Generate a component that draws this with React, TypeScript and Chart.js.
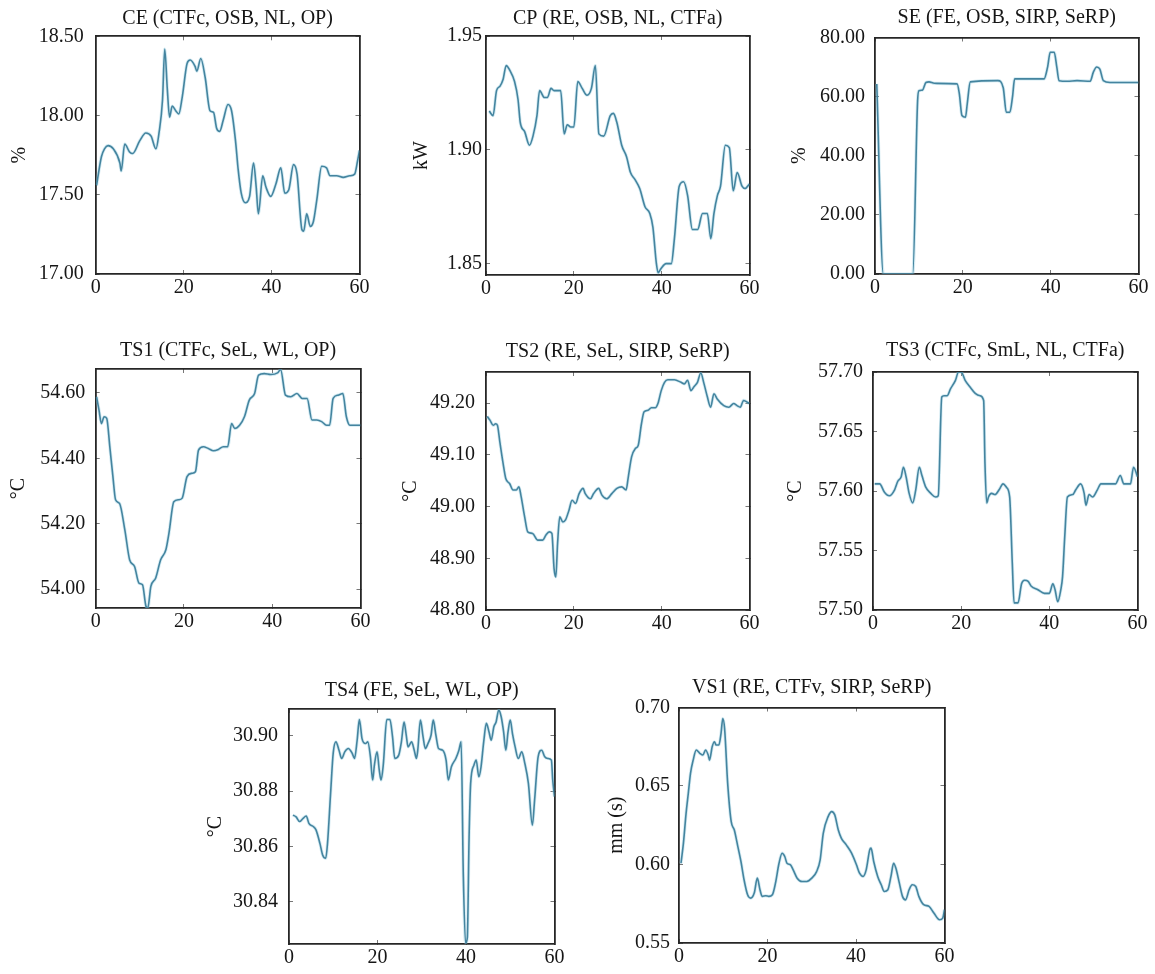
import React, { useEffect, useRef } from 'react';
import { Chart, registerables } from 'chart.js';

Chart.register(...registerables);

// ---------- data ----------
const CE_X = [0.2,1.3,2,2.8,4,5.5,5.8,6.6,7.7,8.4,10,11.4,12.6,13.7,14.4,15.2,15.7,16.3,16.8,17.4,18.2,18.9,19.7,20.8,21.5,22.6,23,23.9,24.9,26,26.8,27.5,28.2,29,30.1,30.9,31.8,32.4,33.1,34,35,35.9,36.5,37,38,38.7,39.8,41,42.1,43,43.9,45,45.8,46.9,47.3,48,48.8,49.5,50.3,51.4,52.5,53.3,54.8,56.3,57.8,58.9,59.6,60];
const CE_Y = [17.56,17.74,17.79,17.81,17.79,17.70,17.65,17.82,17.77,17.76,17.84,17.89,17.87,17.79,17.89,18.10,18.42,18.16,17.99,18.06,18.03,18.01,18.12,18.33,18.35,18.31,18.28,18.36,18.24,18.03,18.02,17.92,17.90,17.97,18.07,18.03,17.84,17.66,17.51,17.45,17.49,17.70,17.55,17.38,17.62,17.55,17.49,17.57,17.67,17.51,17.53,17.69,17.63,17.28,17.27,17.38,17.30,17.33,17.47,17.68,17.67,17.62,17.62,17.61,17.62,17.63,17.72,17.78];

const CP_X = [0.75,1.6,2.4,3.2,3.9,4.6,5.4,6.5,7.3,7.8,8.8,9.9,10.7,11.6,12.2,13.3,14,14.8,15.5,16.3,17,17.8,18.5,19.3,20,20.9,21.9,23,24,24.9,25.7,26.8,28.3,29,29.8,30.9,32,32.9,33.9,35,36.2,37.3,38,38.8,39.2,39.9,41,42.2,42.9,44,45,45.9,47,48.2,49.3,50.4,51.2,51.9,52.7,53.4,54.5,55.4,56.3,57.2,58.3,59,60];
const CP_Y = [1.917,1.915,1.926,1.928,1.931,1.937,1.935,1.930,1.922,1.912,1.908,1.902,1.906,1.915,1.926,1.923,1.923,1.927,1.926,1.926,1.926,1.907,1.911,1.910,1.910,1.930,1.927,1.924,1.927,1.937,1.907,1.906,1.915,1.916,1.912,1.902,1.897,1.890,1.887,1.883,1.875,1.872,1.866,1.850,1.846,1.848,1.850,1.850,1.861,1.884,1.886,1.880,1.865,1.865,1.872,1.872,1.861,1.872,1.880,1.884,1.902,1.901,1.882,1.890,1.884,1.883,1.885];

const SE_X = [0.4,1.9,8.6,9.7,10,10.8,11.6,12.3,13.5,18.7,19.2,19.8,20.6,21,21.7,28,29.2,29.9,30.7,31.3,31.8,38.5,39.3,39.9,40.8,41.4,41.9,43.8,46,49,49.7,50.5,51.2,52,53.5,60];
const SE_Y = [64.3,0,0,58.6,62,62.2,64.8,65,64.5,64.3,61,53.6,53,57.5,65,65.4,63,54.7,54.7,59.8,66,66,70,75,75,70,65.4,65.2,65.4,65.2,68.2,70,69.3,65.4,64.8,64.8];

const TS1_X = [0.2,0.75,1.3,1.9,2.5,3.2,3.9,4.5,5.4,6.6,7.7,8.8,9.8,10.6,11.4,11.8,12.5,13.6,14.7,15.9,16.6,17.7,18.8,19.6,20.7,21.8,22.6,23.3,24.4,25.5,26.7,27.8,28.9,29.9,30.8,31.5,32.6,33.7,34.8,36,36.9,38.2,39.7,41.2,41.9,43,44.2,45.6,46.8,47.9,49,50.1,51.2,52.3,53,53.8,54.9,56,56.8,57.6,60];
const TS1_Y = [54.588,54.547,54.506,54.527,54.522,54.435,54.344,54.273,54.262,54.181,54.089,54.069,54.018,54.013,53.947,53.942,54.008,54.034,54.089,54.12,54.171,54.267,54.273,54.278,54.344,54.354,54.359,54.425,54.435,54.43,54.423,54.427,54.435,54.435,54.506,54.491,54.501,54.527,54.578,54.598,54.654,54.659,54.656,54.661,54.671,54.593,54.588,54.598,54.583,54.583,54.517,54.517,54.512,54.501,54.501,54.583,54.593,54.598,54.527,54.501,54.501];

const TS2_X = [0.3,0.9,1.65,2.2,2.6,3.15,3.9,4.5,5.4,6.15,6.9,7.5,8,8.8,9.5,10.6,11.8,12.9,13.65,14.4,15,15.5,15.9,16.3,16.8,17.5,18.1,18.9,19.6,20.4,21.2,22.1,22.6,23.8,24.5,25.65,26.4,27.5,28.65,29.8,30.9,31.9,32.4,33.15,34,34.65,35.4,36,36.9,37.65,38.55,39.15,39.9,40.65,41.4,42.9,44.4,45.15,45.9,46.65,47.4,48.15,48.9,49.65,50.4,51.15,51.9,52.65,54.15,55.3,56.4,57.15,57.9,58.65,59.4,60];
const TS2_Y = [49.174,49.167,49.157,49.16,49.157,49.125,49.083,49.054,49.044,49.032,49.032,49.038,49.019,48.98,48.951,48.948,48.935,48.935,48.945,48.951,48.948,48.88,48.864,48.929,48.98,48.97,48.974,48.993,49.012,49.006,49.025,49.035,49.025,49.015,49.025,49.035,49.022,49.015,49.025,49.035,49.038,49.032,49.057,49.096,49.112,49.118,49.16,49.183,49.186,49.191,49.191,49.199,49.224,49.24,49.245,49.245,49.24,49.237,49.244,49.224,49.232,49.24,49.258,49.237,49.212,49.192,49.218,49.208,49.195,49.192,49.199,49.195,49.192,49.205,49.202,49.199];

const TS3_X = [0.4,1.5,2.6,3.7,4.9,5.6,6.4,6.9,7.5,8.2,9,9.7,10.5,11.1,12,13.1,14.2,14.8,15.6,16.1,16.8,17.6,18.7,19.4,20,20.9,22.1,23.2,24.3,25.1,25.4,25.8,26.2,26.9,27.7,28.6,29.5,30.3,31,31.6,32,32.9,33.7,34.4,35.2,35.9,37.4,38.9,40,40.8,41.3,41.9,42.6,43,43.5,44.1,45.3,46,47.1,47.9,48.3,49,49.8,50.9,51.7,55,56.1,56.9,58.4,59.1,60];
const TS3_Y = [57.606,57.606,57.599,57.596,57.601,57.608,57.612,57.620,57.612,57.598,57.59,57.601,57.620,57.613,57.603,57.598,57.595,57.596,57.679,57.68,57.68,57.686,57.693,57.70,57.70,57.693,57.687,57.682,57.68,57.676,57.623,57.59,57.595,57.598,57.597,57.601,57.606,57.603,57.595,57.539,57.506,57.506,57.522,57.525,57.524,57.520,57.517,57.514,57.514,57.522,57.517,57.507,57.517,57.528,57.562,57.595,57.597,57.601,57.606,57.598,57.588,57.597,57.595,57.601,57.606,57.606,57.613,57.606,57.606,57.620,57.612];

const TS4_X = [0.9,1.6,2.4,3.1,3.9,4.5,5.4,6.1,7,7.6,8.3,8.7,9.4,10,10.6,11.3,11.9,12.6,13.4,14.3,14.8,15.4,15.9,16.5,17.3,17.8,18.4,18.9,19.3,19.9,20.4,20.8,21.3,22.1,22.8,23.4,23.9,24.8,25.4,26,26.5,26.9,27.7,28.3,28.8,29.1,29.7,30.3,30.8,31.4,32.1,32.6,33.2,33.8,34.7,35.5,36,36.7,37.7,38.4,38.9,39.4,39.9,40.3,40.7,41.05,41.8,42.3,42.9,43.4,44,44.6,45.2,45.7,46.3,46.8,47.4,47.95,48.5,49,49.5,50,50.5,51.1,51.8,52.6,53.3,54.1,55,55.5,56.3,57.1,57.8,58.5,59.3,59.6,60];
const TS4_Y = [30.8713,30.8707,30.869,30.870,30.871,30.8683,30.8673,30.866,30.861,30.8569,30.8557,30.861,30.8792,30.8939,30.8978,30.8948,30.8918,30.8942,30.8954,30.8936,30.8918,30.8984,30.9059,30.899,30.8972,30.8978,30.8924,30.884,30.8894,30.8942,30.8876,30.884,30.8894,30.9059,30.9059,30.8996,30.8918,30.893,30.8978,30.905,30.9002,30.896,30.8978,30.8948,30.8918,30.8948,30.9057,30.8996,30.8954,30.8972,30.9002,30.9057,30.9002,30.8954,30.8948,30.8912,30.884,30.8888,30.8918,30.8948,30.8978,30.849,30.825,30.827,30.8635,30.8828,30.8894,30.8912,30.8852,30.8888,30.8978,30.9045,30.9014,30.8984,30.9033,30.905,30.9093,30.9069,30.9014,30.8948,30.9014,30.9057,30.9008,30.896,30.8918,30.8942,30.89,30.8828,30.8677,30.8767,30.8924,30.8948,30.8924,30.8918,30.8912,30.884,30.878];

const VS1_X = [0.45,1,1.6,2.1,2.6,3.2,3.9,4.7,5.4,6,6.6,6.9,7.5,8,8.4,9,9.5,9.9,10.3,11,11.8,12.5,13.3,14,14.7,15.5,16.2,17,17.7,18.3,18.8,19.6,20.3,21.1,21.8,22.6,23.3,23.9,24.4,25.2,25.8,26.7,27.8,28.9,30,31.1,31.9,32.6,33.7,34.5,35.2,36,36.7,37.8,39,40.1,40.8,41.6,42.3,43.1,43.4,44,44.9,45.7,46.4,47.2,47.9,48.5,49,49.8,50.5,51.2,52,52.7,53.5,54.2,55.3,56.5,57.6,58.9,59.6,60];
const VS1_Y = [0.6008,0.6136,0.6326,0.6453,0.658,0.6665,0.6729,0.6708,0.6697,0.6729,0.6697,0.6665,0.675,0.6782,0.6761,0.6761,0.6835,0.693,0.6867,0.6517,0.6273,0.622,0.6114,0.6019,0.5903,0.5807,0.5786,0.5818,0.5913,0.5839,0.5797,0.5801,0.5797,0.5807,0.5881,0.6008,0.6072,0.6051,0.6008,0.5998,0.5966,0.5913,0.5892,0.5892,0.5913,0.5955,0.603,0.6199,0.6305,0.6337,0.6316,0.622,0.6167,0.6125,0.6072,0.5998,0.5945,0.5924,0.5966,0.6093,0.6104,0.6019,0.5924,0.5871,0.5828,0.5839,0.5924,0.6008,0.5977,0.5881,0.5797,0.5775,0.5839,0.5871,0.586,0.5797,0.5744,0.5733,0.5691,0.5648,0.5659,0.5712];

// tick labels
const X_TICKS = [0, 20, 40, 60];
const CE_TICKS = [17, 17.5, 18, 18.5];
const CP_TICKS = [1.85, 1.9, 1.95];
const SE_TICKS = [0, 20, 40, 60, 80];
const TS1_TICKS = [54, 54.2, 54.4, 54.6];
const TS2_TICKS = [48.8, 48.9, 49, 49.1, 49.2];
const TS3_TICKS = [57.5, 57.55, 57.6, 57.65, 57.7];
const TS4_TICKS = [30.84, 30.86, 30.88, 30.9];
const VS1_TICKS = [0.55, 0.6, 0.65, 0.7];

const PANELS = [
  { title: 'CE (CTFc, OSB, NL, OP)', yLabel: '%', xs: CE_X, ys: CE_Y, yMin: 17, yMax: 18.5, yTicks: CE_TICKS },
  { title: 'CP (RE, OSB, NL, CTFa)', yLabel: 'kW', xs: CP_X, ys: CP_Y, yMin: 1.845, yMax: 1.95, yTicks: CP_TICKS },
  { title: 'SE (FE, OSB, SIRP, SeRP)', yLabel: '%', xs: SE_X, ys: SE_Y, yMin: 0, yMax: 80, yTicks: SE_TICKS },
  { title: 'TS1 (CTFc, SeL, WL, OP)', yLabel: '°C', xs: TS1_X, ys: TS1_Y, yMin: 53.942, yMax: 54.673, yTicks: TS1_TICKS },
  { title: 'TS2 (RE, SeL, SIRP, SeRP)', yLabel: '°C', xs: TS2_X, ys: TS2_Y, yMin: 48.8, yMax: 49.26, yTicks: TS2_TICKS },
  { title: 'TS3 (CTFc, SmL, NL, CTFa)', yLabel: '°C', xs: TS3_X, ys: TS3_Y, yMin: 57.5, yMax: 57.7, yTicks: TS3_TICKS },
  { title: 'TS4 (FE, SeL, WL, OP)', yLabel: '°C', xs: TS4_X, ys: TS4_Y, yMin: 30.8247, yMax: 30.9097, yTicks: TS4_TICKS },
  { title: 'VS1 (RE, CTFv, SIRP, SeRP)', yLabel: 'mm (s)', xs: VS1_X, ys: VS1_Y, yMin: 0.55, yMax: 0.7, yTicks: VS1_TICKS },
];

// ---------- layout (plot rectangles on the page) ----------
const LAYOUT = [
  { plot: [95.7, 36, 363, 274], yTitleX: 20, gap: 12, titleDist: 17.3 },
  { plot: [486, 36, 753, 275], yTitleX: 422, gap: 4, titleDist: 17 },
  { plot: [875, 37, 1142, 274], yTitleX: 800, gap: 10, titleDist: 19.5 },
  { plot: [95.7, 369, 364, 608], yTitleX: 19, gap: 10.5, titleDist: 18 },
  { plot: [486, 372, 753, 610], yTitleX: 411, gap: 11, titleDist: 20 },
  { plot: [873, 372, 1141, 610], yTitleX: 796, gap: 10, titleDist: 21 },
  { plot: [289, 709, 558, 944], yTitleX: 216, gap: 11, titleDist: 18 },
  { plot: [679, 707, 948, 943], yTitleX: 617, gap: 9, titleDist: 19.5 },
];

const FONT_FAMILY = '"Liberation Serif", "Times New Roman", Times, serif';
const INK = '#161616';

function Panel({ panel, layout }: { panel: any; layout: any }) {
  const ref = useRef<HTMLCanvasElement | null>(null);
  const [L, T, R, B] = layout.plot;
  const CL = Math.round(layout.yTitleX - 12);
  const CT = Math.round(T - 16 - layout.titleDist);
  const CR = Math.round(R + 12);
  const CB = Math.round(B + 32);
  const W = CR - CL;
  const H = CB - CT;

  useEffect(() => {
    if (!ref.current) return;
    const pts = panel.xs.map((x: number, i: number) => ({ x, y: panel.ys[i] }));
    const tickFont = { family: FONT_FAMILY, size: 20, lineHeight: 1.2 };
    const setTicks = (vals: number[]) => (s: any) => {
      s.ticks = vals.map((v) => ({ value: v }));
    };
    const grid = { drawOnChartArea: false, drawTicks: true, tickLength: -4, color: '#777777', lineWidth: 1 };
    const border = { display: true, color: '#262626', width: 1.8 };
    const chart = new Chart(ref.current, {
      type: 'line',
      data: {
        datasets: [
          { data: pts, borderColor: 'rgba(140,200,222,0.38)', borderWidth: 3.2, pointRadius: 0, cubicInterpolationMode: 'monotone', fill: false },
          { data: pts, borderColor: '#195b79', borderWidth: 1.6, pointRadius: 0, cubicInterpolationMode: 'monotone', fill: false },
        ],
      },
      options: {
        animation: false,
        responsive: false,
        devicePixelRatio: 1,
        layout: { padding: { left: 0, top: 0, right: CR - R, bottom: 0 } },
        plugins: {
          legend: { display: false },
          tooltip: { enabled: false },
          title: {
            display: true,
            fullSize: false,
            text: panel.title,
            color: INK,
            font: { family: FONT_FAMILY, size: 20, weight: 'normal', lineHeight: 1.2 },
            padding: { top: 4, bottom: layout.titleDist - 12 },
          },
        },
        scales: {
          x: {
            type: 'linear', position: 'bottom', min: 0, max: 60,
            afterBuildTicks: setTicks(X_TICKS),
            afterFit: (s: any) => { s.height = 32; },
            ticks: { font: tickFont, color: INK, padding: 5.5, maxRotation: 0, autoSkip: false, callback: (v: any) => String(v) },
            grid, border,
          },
          x2: {
            type: 'linear', axis: 'x', position: 'top', min: 0, max: 60,
            afterBuildTicks: setTicks(X_TICKS),
            afterFit: (s: any) => { s.height = 0; },
            ticks: { display: false },
            grid, border,
          },
          y: {
            type: 'linear', position: 'left', min: panel.yMin, max: panel.yMax,
            afterBuildTicks: setTicks(panel.yTicks),
            afterFit: (s: any) => { s.width = L - CL; },
            ticks: { font: tickFont, color: INK, padding: layout.gap + 4, autoSkip: false, callback: (v: any) => Number(v).toFixed(2) },
            grid, border,
            title: { display: true, text: panel.yLabel, color: INK, font: { family: FONT_FAMILY, size: 20, lineHeight: 1.2 }, padding: 0 },
          },
          y2: {
            type: 'linear', axis: 'y', position: 'right', min: panel.yMin, max: panel.yMax,
            afterBuildTicks: setTicks(panel.yTicks),
            afterFit: (s: any) => { s.width = 0; },
            ticks: { display: false },
            grid, border,
          },
        },
      } as any,
    });
    return () => chart.destroy();
  }, []);

  return (
    <canvas
      ref={ref}
      width={W}
      height={H}
      style={{ position: 'absolute', left: CL, top: CT, width: W, height: H }}
    />
  );
}

export default function App() {
  return (
    <div style={{ position: 'fixed', left: 0, top: 0, width: 1155, height: 974, background: '#fff', overflow: 'hidden' }}>
      {PANELS.map((p, i) => (
        <Panel key={i} panel={p} layout={LAYOUT[i]} />
      ))}
    </div>
  );
}
